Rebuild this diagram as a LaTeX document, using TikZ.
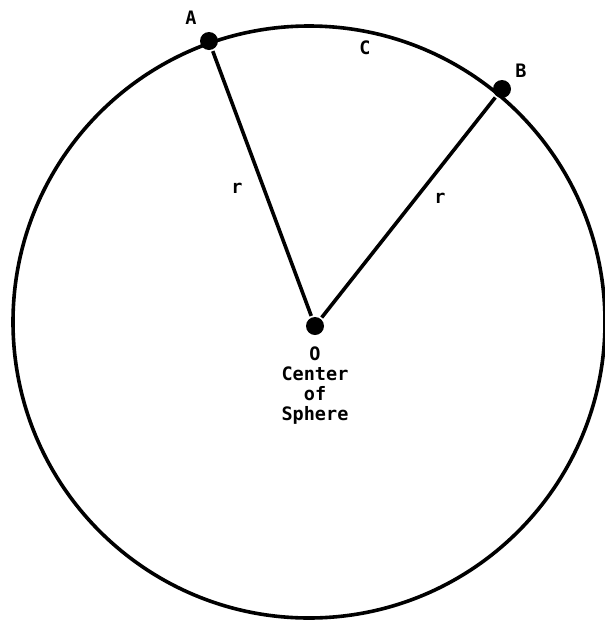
\documentclass[tikz,border=0pt]{standalone}
\usepackage{fontspec}
\newfontfamily\labelfont{DejaVu Sans Mono}
\begin{document}
\begin{tikzpicture}[x=1pt,y=-1pt,line width=3.6pt,
  dot/.style={circle,fill,inner sep=0pt,minimum size=18pt},
  lbl/.style={font=\labelfont\bfseries\fontsize{18.5}{20}\selectfont,inner sep=0pt}]
\useasboundingbox (0,0) rectangle (605,622);
\coordinate (Ctr) at (309,322);
\draw (Ctr) circle (296);
\node[dot] (A) at (209,41) {}; \node[dot] (B) at (502,89) {}; \node[dot] (O) at (315,326) {};
\draw (O)--(A); \draw (O)--(B);
\node[lbl] (labA) at (191,18) {A}; \node[lbl] (labB) at (521,71) {B};
\node[lbl] (labC) at (365,48) {C};
\node[lbl] (rA) at (237,188) {r}; \node[lbl] (rB) at (440,198) {r};
\node[lbl,align=center,anchor=north] (labO) at (315,345) {O\\Center\\of\\Sphere};
\end{tikzpicture}
\end{document}
